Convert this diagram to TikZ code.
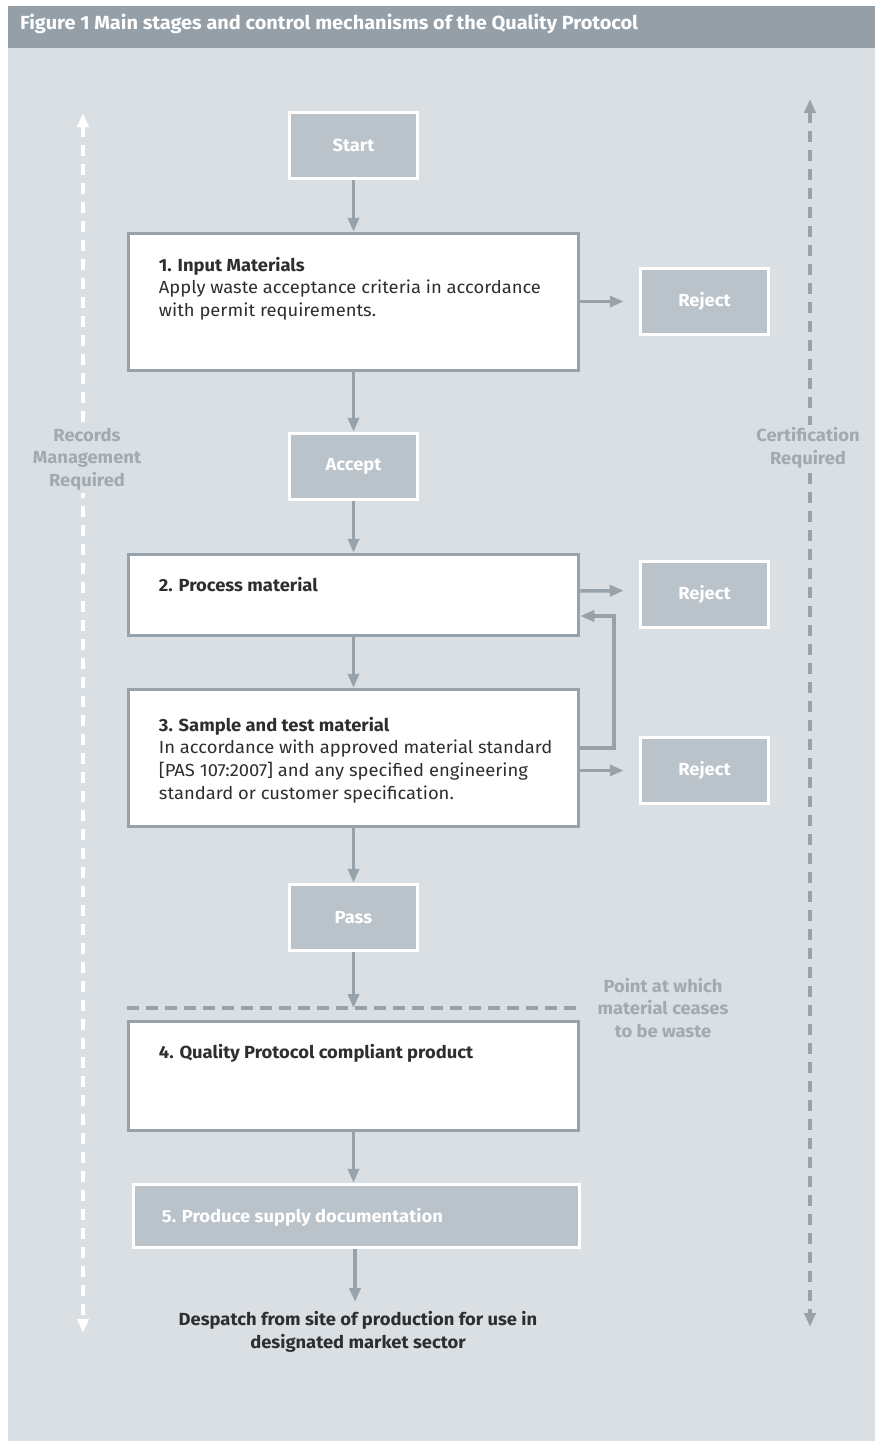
\documentclass[tikz,border=0pt]{standalone}
\usepackage{fontspec}
\setmainfont{Fira Sans}[FakeStretch=1.05]
\usetikzlibrary{arrows.meta,calc}
\definecolor{bg}{HTML}{DADFE3}
\definecolor{titlebar}{HTML}{949FA8}
\definecolor{boxgrey}{HTML}{BAC2CA}
\definecolor{linegrey}{HTML}{98A2AA}
\definecolor{labelgrey}{HTML}{A0AAB2}
\definecolor{textdark}{HTML}{2E2E2E}
\tikzset{
  tip/.tip={Triangle[length=14pt,width=11pt]},
  whitebox/.style={draw=linegrey, line width=3.5pt, fill=white, minimum width=450pt, inner sep=0pt},
  greybox/.style={draw=white, line width=3.5pt, fill=boxgrey, text=white,
    font=\bfseries\fontsize{17.5}{20}\selectfont, minimum width=128pt, minimum height=66pt, inner sep=0pt},
  boxtext/.style={anchor=north west, inner sep=0pt, align=left, text=textdark,
    font=\fontsize{17.5}{22.8}\selectfont},
  arr/.style={draw=linegrey, line width=3.5pt, -tip},
  sidelabel/.style={fill=bg, align=center, text=labelgrey, inner sep=3pt,
    font=\bfseries\fontsize{17.5}{22.5}\selectfont},
}
\begin{document}
\begin{tikzpicture}[x=1pt,y=-1pt]
\useasboundingbox (0,0) rectangle (875,1441);
\fill[white] (0,0) rectangle (875,1441);
\fill[bg] (8,48) rectangle (875,1441);
\fill[titlebar] (8,6) rectangle (875,48);
\node[anchor=west, text=white, inner sep=0pt, font=\bfseries\fontsize{19}{20}\selectfont] (title) at (20,24)
  {Figure 1 Main stages and control mechanisms of the Quality Protocol};

% side dashed arrows
\coordinate (lt) at (83,113);
\coordinate (lb) at (83,1333);
\draw[white, line width=4pt, dash pattern=on 11pt off 8pt, tip-tip] (lt) -- (lb);
\node[sidelabel] (records) at (87,459) {Records\\Management\\Required};
\coordinate (rt) at (810,99);
\coordinate (rb) at (810,1327);
\draw[linegrey, line width=3.5pt, dash pattern=on 11pt off 8pt, tip-tip] (rt) -- (rb);
\node[sidelabel] (cert) at (808,448) {Certification\\Required};

% main boxes
\node[greybox] (start) at (353.5,145.5) {Start};
\node[whitebox, minimum height=137pt] (b1) at (353.5,302) {};
\node[greybox] (rej1) at (704.5,301.5) {Reject};
\node[greybox] (accept) at (353.5,466.5) {Accept};
\node[whitebox, minimum height=81pt] (b2) at (353.5,595) {};
\node[greybox] (rej2) at (704.5,594.5) {Reject};
\node[whitebox, minimum height=137pt] (b3) at (353.5,758) {};
\node[greybox] (rej3) at (704.5,770.5) {Reject};
\node[greybox] (pass) at (353.5,917.5) {Pass};
\node[whitebox, minimum height=109pt] (b4) at (353.5,1076) {};
\node[greybox, minimum width=446pt, minimum height=63pt] (b5) at (356.5,1216) {};

% box texts
\node[boxtext] (t1) at ($(b1.north west)+(32,25)$)
  {\textbf{1. Input Materials}\\Apply waste acceptance criteria in accordance\\with permit requirements.};
\node[boxtext] (t2) at ($(b2.north west)+(32,24)$) {\textbf{2. Process material}};
\node[boxtext] (t3) at ($(b3.north west)+(32,29)$)
  {\textbf{3. Sample and test material}\\In accordance with approved material standard\\{[}PAS 107:2007{]} and any specified engineering\\standard or customer specification.};
\node[boxtext] (t4) at ($(b4.north west)+(32,24)$) {\textbf{4. Quality Protocol compliant product}};
\node[anchor=west, inner sep=0pt, text=white, font=\bfseries\fontsize{17.5}{20}\selectfont] (t5)
  at ($(b5.west)+(30,1)$) {5. Produce supply documentation};

% dashed line
\coordinate (dl) at (127,1008);
\coordinate (dr) at (580,1008);
\draw[linegrey, line width=3.5pt, dash pattern=on 12pt off 7pt] (dl) -- (dr);
\node[align=center, text=labelgrey, inner sep=0pt, font=\bfseries\fontsize{17.5}{22.5}\selectfont] (cease)
  at (663,1008) {Point at which\\material ceases\\to be waste};

\node[align=center, text=textdark, inner sep=0pt, font=\bfseries\fontsize{17.5}{23}\selectfont] (despatch)
  at (358,1332) {Despatch from site of production for use in\\designated market sector};

% connectors
\draw[arr] (start) -- (b1);
\draw[arr] (b1) -- (accept);
\draw[arr] (accept) -- (b2);
\draw[arr] (b2) -- (b3);
\draw[arr] (b3) -- (pass);
\draw[arr] (pass.south) -- (pass.south |- dl);
\draw[arr] (b4.south) -- (b4.south |- b5.north);
\coordinate (dsp) at (355,1302);
\draw[arr] (b5.south -| dsp) -- (dsp);
\draw[arr, shorten >=15pt] (b1.east |- rej1) -- (rej1.west);
\draw[arr, shorten >=15pt] ($(b2.east)+(0,-4)$) -- ($(rej2.west)+(0,-4)$);
\draw[arr, shorten >=15pt] (b3.east |- rej3) -- (rej3.west);
\coordinate (fb1) at (614,748);
\coordinate (fb2) at (614,616);
\draw[arr] (b3.east |- fb1) -- (fb1) -- (fb2) -- (b2.east |- fb2);
\end{tikzpicture}
\end{document}
